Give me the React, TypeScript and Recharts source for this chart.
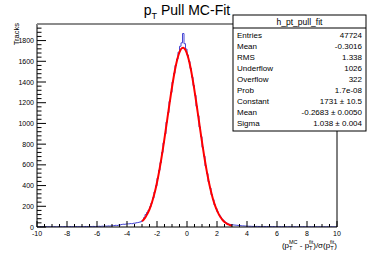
import React from "react";
import { ComposedChart, Line, XAxis, YAxis } from "recharts";

// histogram: 200 bins of 0.1 from -10 to 10
const histStart = -10;
const binWidth = 0.1;
const histCounts = [
  2, 1, 3, 2, 2, 1, 3, 2, 2, 3,
  2, 3, 2, 1, 3, 2, 3, 2, 4, 2,
  3, 2, 4, 3, 2, 3, 4, 3, 3, 4,
  4, 3, 5, 4, 3, 5, 4, 6, 5, 5,
  6, 7, 6, 8, 7, 9, 8, 10, 9, 11,
  13, 14, 16, 15, 18, 20, 24, 27, 26, 29,
  30, 31, 33, 32, 36, 38, 41, 44, 47, 52,
  64, 90, 120, 140, 162, 195, 232, 282, 338, 398,
  470, 548, 622, 720, 812, 900, 1012, 1104, 1212, 1300,
  1398, 1484, 1560, 1622, 1688, 1745, 1778, 1868, 1770, 1718,
  1660, 1598, 1532, 1446, 1366, 1272, 1166, 1074, 966, 872,
  770, 684, 590, 516, 438, 376, 312, 264, 214, 178,
  146, 118, 95, 76, 60, 48, 38, 30, 25, 22,
  21, 19, 18, 16, 15, 13, 12, 11, 10, 9,
  8, 7, 7, 6, 6, 5, 6, 5, 5, 4,
  4, 5, 4, 4, 3, 4, 3, 4, 3, 3,
  3, 2, 3, 3, 2, 3, 2, 2, 3, 2,
  2, 3, 2, 2, 1, 2, 2, 3, 2, 2,
  2, 1, 2, 2, 2, 1, 2, 1, 2, 2,
  1, 2, 1, 2, 1, 1, 2, 1, 1, 2,
];

// gaussian fit curve, sampled at -3, bin centres -2.95..2.95, and 3
const fitValues = [
  54.2,
  61.5, 78.5, 99.3, 124.5, 154.5, 190.1, 231.8, 279.8, 334.7, 396.7,
  466.0, 542.2, 624.9, 713.7, 807.7, 905.5, 1005.7, 1106.8, 1206.7, 1303.6,
  1395.4, 1479.5, 1554.3, 1617.8, 1668.3, 1704.7, 1725.6, 1730.7, 1719.8, 1693.1,
  1651.5, 1596.0, 1528.2, 1449.5, 1362.5, 1268.6, 1170.5, 1069.7, 968.8, 869.3,
  772.7, 680.6, 593.9, 513.4, 439.8, 373.2, 313.8, 261.4, 215.8, 176.4,
  142.9, 114.7, 91.2, 71.9, 56.1, 43.4, 33.3, 25.3, 19.0, 14.2,
  12.2,
];
const fitX = [-3, ...Array.from({ length: 60 }, (_, i) => Math.round((-2.95 + i * 0.1) * 100) / 100), 3];

const xLabelTicks = [-10, -8, -6, -4, -2, 0, 2, 4, 6, 8, 10];
const yLabelTicks = [0, 200, 400, 600, 800, 1000, 1200, 1400, 1600, 1800];
const xTicks = Array.from({ length: 41 }, (_, i) => -10 + i * 0.5);
const yTicks = Array.from({ length: 50 }, (_, i) => i * 40);

const statsRows = [
  ["Entries", "47724"],
  ["Mean", "-0.3016"],
  ["RMS", "1.338"],
  ["Underflow", "1026"],
  ["Overflow", "322"],
  ["Prob", "1.7e-08"],
  ["Constant", "1731 \u00b1 10.5"],
  ["Mean", "-0.2683 \u00b1 0.0050"],
  ["Sigma", "1.038 \u00b1 0.004"],
];

const histData = [
  ...histCounts.map((c, i) => ({ x: Math.round((histStart + i * binWidth) * 10) / 10, y: c })),
  { x: 10, y: histCounts[histCounts.length - 1] },
];
const fitData = fitX.map((x, i) => ({ x, y: fitValues[i] }));

const FONT = "'Liberation Sans', Arial, Helvetica, sans-serif";

function XTick(props: any) {
  const { x, y, payload } = props;
  const major = xLabelTicks.includes(payload.value);
  return (
    <g>
      <line x1={x} x2={x} y1={y} y2={y - (major ? 6 : 3)} stroke="#000" />
      {major && (
        <text x={x} y={y + 9} textAnchor="middle" fontSize={7} fontFamily={FONT} fill="#000">
          {payload.value}
        </text>
      )}
    </g>
  );
}

function YTick(props: any) {
  const { x, y, payload } = props;
  const major = yLabelTicks.includes(payload.value);
  return (
    <g>
      <line x1={x} x2={x + (major ? 9 : 4.5)} y1={y} y2={y} stroke="#000" />
      {major && (
        <text x={x - 3} y={y + 2.5} textAnchor="end" fontSize={7} fontFamily={FONT} fill="#000">
          {payload.value}
        </text>
      )}
    </g>
  );
}

export default function App() {
  const boxX = 233;
  const boxY = 15;
  const boxW = 133;
  const boxH = 116;
  return (
    <div style={{ position: "absolute", left: 0, top: 0, width: 374, height: 253, background: "#fff" }}>
      <ComposedChart width={374} height={253} margin={{ top: 24, right: 37, bottom: 0, left: 0 }}>
        <XAxis
          dataKey="x"
          type="number"
          domain={[-10, 10]}
          ticks={xTicks}
          interval={0}
          height={26}
          tickSize={0}
          tickMargin={0}
          tick={<XTick />}
          axisLine={{ stroke: "#000" }}
          tickLine={false}
          allowDataOverflow
        />
        <YAxis
          type="number"
          domain={[0, 1960]}
          ticks={yTicks}
          interval={0}
          width={37}
          tickSize={0}
          tickMargin={0}
          tick={<YTick />}
          axisLine={{ stroke: "#000" }}
          tickLine={false}
          allowDataOverflow
        />
        <Line
          data={histData}
          dataKey="y"
          type="stepAfter"
          stroke="#4848d4"
          strokeWidth={1}
          dot={false}
          isAnimationActive={false}
        />
        <Line
          data={fitData}
          dataKey="y"
          type="monotone"
          stroke="#ff0000"
          strokeWidth={2}
          dot={false}
          isAnimationActive={false}
        />
      </ComposedChart>
      <svg
        width={374}
        height={253}
        style={{ position: "absolute", left: 0, top: 0, pointerEvents: "none" }}
        fontFamily={FONT}
      >
        <line x1={37} x2={337} y1={24} y2={24} stroke="#8c8c8c" strokeWidth={2} />
        <line x1={337} x2={337} y1={24} y2={227} stroke="#000" />
        <text x={187} y={15} textAnchor="middle" fontSize={14} fill="#000">
          p<tspan fontSize={9} dy={4}>T</tspan>
          <tspan dy={-4}> Pull MC-Fit</tspan>
        </text>
        <text transform="translate(19,23) rotate(-90)" textAnchor="end" fontSize={7.5} fill="#000">
          Tracks
        </text>
        <text x={337} y={248} textAnchor="end" fontSize={8} fill="#000">
          (p<tspan fontSize={5.5} dy={2}>T</tspan>
          <tspan fontSize={5.5} dx={-3.5} dy={-6}>MC</tspan>
          <tspan dy={4}> - p</tspan>
          <tspan fontSize={5.5} dy={2}>T</tspan>
          <tspan fontSize={5.5} dx={-3.5} dy={-6}>fit</tspan>
          <tspan dy={4}>)/σ(p</tspan>
          <tspan fontSize={5.5} dy={2}>T</tspan>
          <tspan fontSize={5.5} dx={-3.5} dy={-6}>fit</tspan>
          <tspan dy={4}>)</tspan>
        </text>
        <rect x={boxX} y={boxY} width={boxW} height={boxH} fill="#fff" stroke="#000" strokeWidth={1} />
        <text x={boxX + boxW / 2} y={boxY + 10} textAnchor="middle" fontSize={8.5} fill="#000">
          h_pt_pull_fit
        </text>
        <line x1={boxX} x2={boxX + boxW} y1={boxY + 13} y2={boxY + 13} stroke="#000" />
        {statsRows.map(([label, value], i) => (
          <g key={i}>
            <text x={boxX + 4} y={boxY + 22.5 + i * 11} fontSize={8} fill="#000">
              {label}
            </text>
            <text x={boxX + boxW - 4} y={boxY + 22.5 + i * 11} textAnchor="end" fontSize={8} fill="#000">
              {value}
            </text>
          </g>
        ))}
      </svg>
    </div>
  );
}
